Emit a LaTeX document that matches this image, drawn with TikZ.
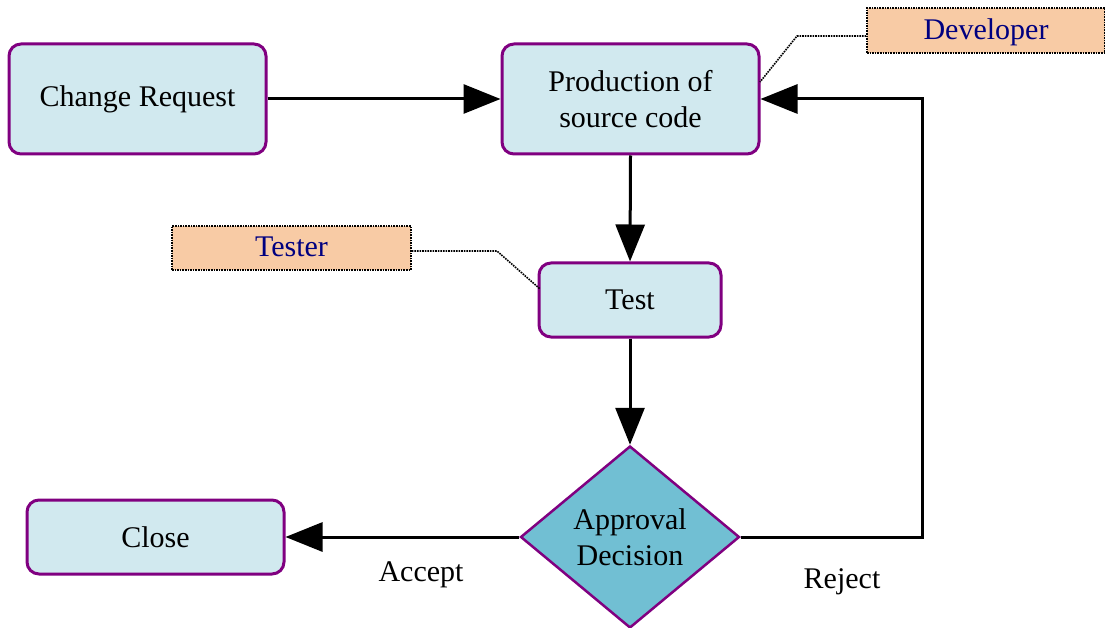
\documentclass[tikz,border=0pt]{standalone}
\usepackage{fontspec}
\setmainfont{Liberation Serif}
\usetikzlibrary{shapes.geometric,arrows.meta}
\definecolor{boxborder}{HTML}{800080}
\definecolor{boxfill}{HTML}{D1E9EF}
\definecolor{decfill}{HTML}{71BFD3}
\definecolor{notefill}{HTML}{F8CBA5}
\definecolor{notetext}{HTML}{000080}
\tikzset{
  stepbox/.style={draw=boxborder, fill=boxfill, line width=3pt, rounded corners=12pt, inner sep=0pt, align=center},
  decbox/.style={diamond, draw=boxborder, fill=decfill, line width=2.5pt, inner sep=0pt, align=center, minimum width=219pt, minimum height=182pt},
  notebox/.style={draw=black, densely dotted, fill=notefill, line width=1.6pt, inner sep=0pt, text=notetext},
  conn/.style={line width=3pt, -{Triangle[length=37pt,width=29pt]}},
  noteline/.style={line width=1.6pt, densely dotted},
  every node/.style={font=\fontsize{30}{36}\selectfont}
}
\begin{document}
\begin{tikzpicture}[x=1pt,y=-1pt]
\useasboundingbox (0,0) rectangle (1105,628);
\node[stepbox, minimum width=257pt, minimum height=110pt] (cr) at (137.5,99) {Change Request};
\node[stepbox, minimum width=257pt, minimum height=110pt] (prod) at (630.5,99) {Production of\\source code};
\node[stepbox, minimum width=182pt, minimum height=74pt] (test) at (630,300) {Test};
\node[stepbox, minimum width=257pt, minimum height=74pt] (close) at (155.5,537) {Close};
\node[decbox] (dec) at (630,537) {Approval\\Decision};
\node[notebox, minimum width=238pt, minimum height=45pt, text depth=2pt] (dev) at (986,30.5) {Developer};
\node[notebox, minimum width=239pt, minimum height=44pt, text depth=2pt] (tester) at (291.5,248) {Tester};
\coordinate (rj) at (922,537);
\coordinate (rjtop) at (922,99);
\coordinate (devbend) at (797,36);
\coordinate (devend) at (760,82);
\coordinate (tbend) at (497,251);
\coordinate (tend) at (540,289);
\draw[conn] (cr.east) -- (prod.west);
\draw[conn] (prod.south) -- (test.north);
\draw[conn] (test.south) -- (dec.north);
\draw[conn] (dec.west) -- (close.east);
\draw[conn] (dec.east) -- (rj) -- (rjtop) -- (prod.east);
\draw[noteline] (dev.west |- devbend) -- (devbend) -- (devend);
\draw[noteline] (tester.east |- tbend) -- (tbend) -- (tend);
\node[anchor=center] (acc) at (421,575) {Accept};
\node[anchor=center] (rejl) at (842,582) {Reject};
\end{tikzpicture}
\end{document}
